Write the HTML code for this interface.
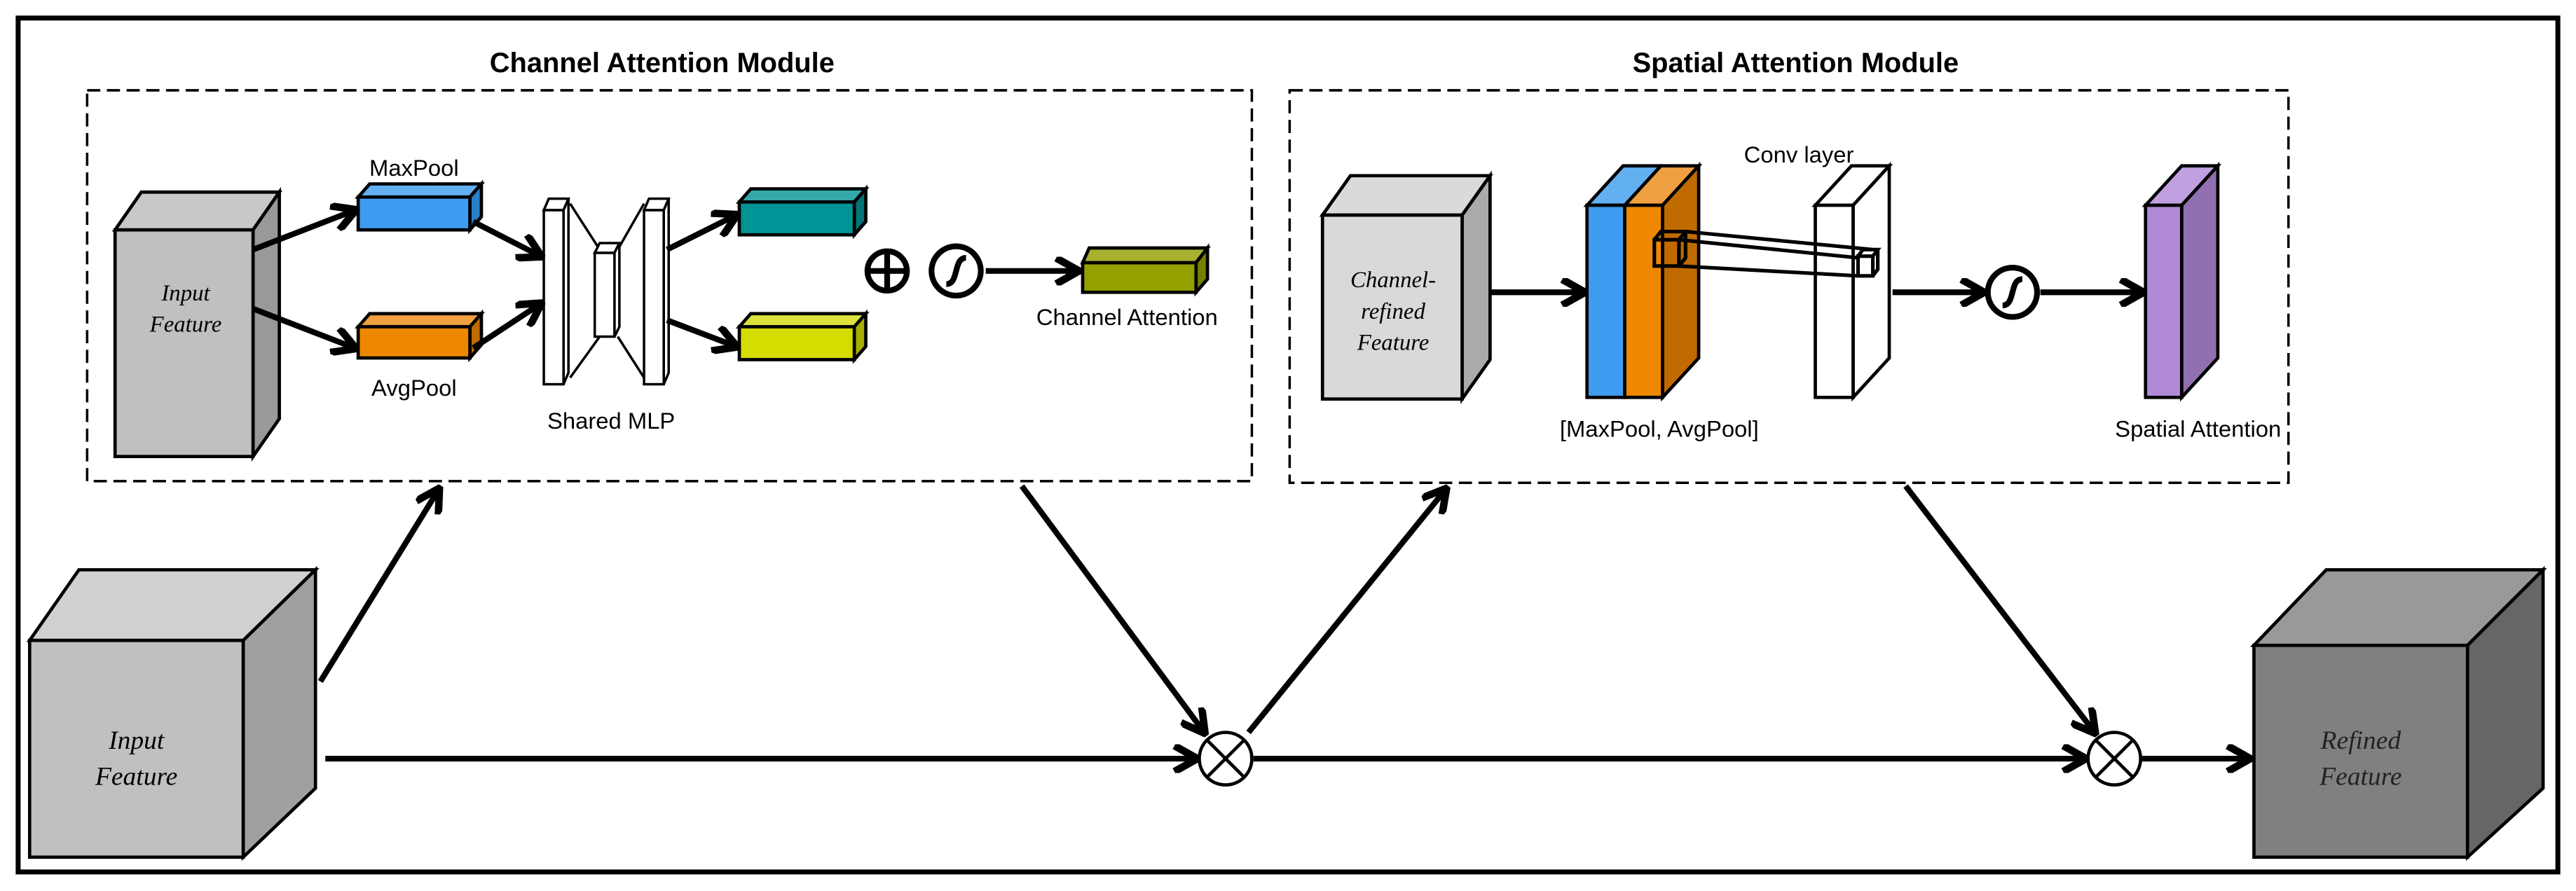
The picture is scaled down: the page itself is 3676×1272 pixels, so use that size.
<!DOCTYPE html>
<html><head><meta charset="utf-8"><style>
html,body{margin:0;padding:0;background:#fff;}
svg{display:block}
text{font-family:"Liberation Sans",sans-serif;}
.ser{font-family:"Liberation Serif",serif;font-style:italic;}
</style></head><body>
<svg width="3676" height="1272" viewBox="0 0 1568 542.6" xmlns="http://www.w3.org/2000/svg">
<defs>
<marker id="ah" viewBox="0 0 10 10" refX="8.5" refY="5" markerWidth="5" markerHeight="5" orient="auto" markerUnits="strokeWidth">
<path d="M1,0.5 L9,5 L1,9.5" fill="none" stroke="#000" stroke-width="2.6" stroke-linejoin="miter"/>
</marker>
</defs>
<rect x="0" y="0" width="1568" height="542.6" fill="#fff"/>
<rect x="11" y="11" width="1546" height="520" fill="none" stroke="#000" stroke-width="3"/>

<text x="403" y="44" font-size="17" font-weight="bold" text-anchor="middle">Channel Attention Module</text>
<text x="1093" y="44" font-size="17" font-weight="bold" text-anchor="middle">Spatial Attention Module</text>

<rect x="53" y="55" width="709" height="238" fill="none" stroke="#000" stroke-width="1.5" stroke-dasharray="8,4"/>
<rect x="785" y="55" width="608" height="239" fill="none" stroke="#000" stroke-width="1.5" stroke-dasharray="8,4"/>

<g stroke="#000" stroke-width="2" stroke-linejoin="miter">
<polygon points="70,140 86,117 170,117 154,140" fill="#c8c8c8"/>
<polygon points="154,140 170,117 170,255 154,278" fill="#999"/>
<rect x="70" y="140" width="84" height="138" fill="#c0c0c0"/>
<polygon points="218,120 225,112 293,112 286,120" fill="#62b0f0"/>
<polygon points="286,120 293,112 293,132 286,140" fill="#2a7fc9"/>
<rect x="218" y="120" width="68" height="20" fill="#3f9bef"/>
<polygon points="218,199 225,191 293,191 286,199" fill="#f0a040"/>
<polygon points="286,199 293,191 293,210 286,218" fill="#c06a00"/>
<rect x="218" y="199" width="68" height="19" fill="#ee8800"/>
<polygon points="450,123 457,115 527,115 520,123" fill="#33a8aa"/>
<polygon points="520,123 527,115 527,135 520,143" fill="#007476"/>
<rect x="450" y="123" width="70" height="20" fill="#009496"/>
<polygon points="450,199 457,191 527,191 520,199" fill="#dde23c"/>
<polygon points="520,199 527,191 527,211 520,219" fill="#a8ae00"/>
<rect x="450" y="199" width="70" height="20" fill="#d4dc00"/>
<polygon points="659,160 663,151 735,151 728,160" fill="#a8b030"/>
<polygon points="728,160 735,151 735,170 728,178" fill="#748000"/>
<rect x="659" y="160" width="69" height="18" fill="#94a000"/>
</g>
<g stroke="#000" stroke-width="1.5" fill="#fff">
<polyline points="347,124 365,152" fill="none"/>
<polyline points="347,230 365,205" fill="none"/>
<polyline points="392,124 376,152" fill="none"/>
<polyline points="392,230 376,205" fill="none"/>
<polygon points="331,128 334,121 346,121 343,128"/>
<polygon points="343,128 346,121 346,227 343,234"/>
<rect x="331" y="128" width="12" height="106"/>
<polygon points="362,154 365,148 377,148 374,154"/>
<polygon points="374,154 377,148 377,199 374,205"/>
<rect x="362" y="154" width="12" height="51"/>
<polygon points="392,128 395,121 407,121 404,128"/>
<polygon points="404,128 407,121 407,227 404,234"/>
<rect x="392" y="128" width="12" height="106"/>
</g>
<g stroke="#000" stroke-width="3.5" fill="none">
<circle cx="540" cy="165" r="12"/>
<line x1="528" y1="165" x2="552" y2="165"/>
<line x1="540" y1="153" x2="540" y2="177"/>
<circle cx="582" cy="165" r="15"/>
<path d="M576,173 C584,173 580,157 588,157"/>
<circle cx="1225" cy="178" r="15"/>
<path d="M1219,186 C1227,186 1223,170 1231,170"/>
</g>

<g font-size="14" text-anchor="middle">
<text x="252" y="107">MaxPool</text>
<text x="252" y="241">AvgPool</text>
<text x="372" y="261">Shared MLP</text>
<text x="686" y="198">Channel Attention</text>
<text x="1095" y="99">Conv layer</text>
<text x="1010" y="266">[MaxPool, AvgPool]</text>
<text x="1338" y="266">Spatial Attention</text>
</g>
<text class="ser" x="113" y="183" font-size="14" text-anchor="middle">Input</text>
<text class="ser" x="113" y="202" font-size="14" text-anchor="middle">Feature</text>

<g stroke="#000" stroke-width="2">
<polygon points="805,131 822,107 907,107 890,131" fill="#dadada"/>
<polygon points="890,131 907,107 907,219 890,243" fill="#aaa"/>
<rect x="805" y="131" width="85" height="112" fill="#d9d9d9"/>
<polygon points="966,125 988,101 1011,101 989,125" fill="#62b0f0"/>
<polygon points="989,125 1011,101 1034,101 1012,125" fill="#f0a040"/>
<polygon points="1012,125 1034,101 1034,218 1012,242" fill="#c06a00"/>
<rect x="966" y="125" width="23" height="117" fill="#3f9bef"/>
<rect x="989" y="125" width="23" height="117" fill="#ee8800"/>
<polygon points="1105,125 1127,101 1150,101 1128,125" fill="#fff"/>
<polygon points="1128,125 1150,101 1150,218 1128,242" fill="#fff"/>
<rect x="1105" y="125" width="23" height="117" fill="#fff"/>
<polygon points="1306,125 1328,101 1350,101 1328,125" fill="#c0a0e0"/>
<polygon points="1328,125 1350,101 1350,218 1328,242" fill="#9070b0"/>
<rect x="1306" y="125" width="22" height="117" fill="#b08ad6"/>
</g>
<g stroke="#000" stroke-width="2.2" fill="none">
<rect x="1007" y="146" width="15" height="16"/>
<polyline points="1007,146 1011,141 1026,141 1022,146"/>
<polyline points="1026,141 1026,157 1022,162"/>
<line x1="1026" y1="141" x2="1140" y2="152"/>
<line x1="1022" y1="146" x2="1131" y2="157"/>
<line x1="1022" y1="162" x2="1131" y2="168"/>
<rect x="1131" y="156" width="9" height="12" fill="#fff"/>
<polyline points="1131,156 1134,152 1143,152 1140,156"/>
<polyline points="1143,152 1143,164 1140,168"/>
</g>
<text class="ser" x="848" y="175" font-size="14" text-anchor="middle">Channel-</text>
<text class="ser" x="848" y="194" font-size="14" text-anchor="middle">refined</text>
<text class="ser" x="848" y="213" font-size="14" text-anchor="middle">Feature</text>

<g stroke="#000" stroke-width="2">
<polygon points="18,390 48,347 192,347 148,390" fill="#d0d0d0"/>
<polygon points="148,390 192,347 192,480 148,522" fill="#a0a0a0"/>
<rect x="18" y="390" width="130" height="132" fill="#c0c0c0"/>
<polygon points="1372,393 1416,347 1548,347 1502,393" fill="#999"/>
<polygon points="1502,393 1548,347 1548,480 1502,522" fill="#666"/>
<rect x="1372" y="393" width="130" height="129" fill="#808080"/>
</g>
<text class="ser" x="83" y="456" font-size="16" text-anchor="middle">Input</text>
<text class="ser" x="83" y="478" font-size="16" text-anchor="middle">Feature</text>
<text class="ser" x="1437" y="456" font-size="16" text-anchor="middle" fill="#222">Refined</text>
<text class="ser" x="1437" y="478" font-size="16" text-anchor="middle" fill="#222">Feature</text>

<g stroke="#000" stroke-width="2" fill="#fff">
<circle cx="746" cy="462" r="16"/>
<line x1="735" y1="451" x2="757" y2="473"/><line x1="757" y1="451" x2="735" y2="473"/>
<circle cx="1287" cy="462" r="16"/>
<line x1="1276" y1="451" x2="1298" y2="473"/><line x1="1298" y1="451" x2="1276" y2="473"/>
</g>

<g stroke="#000" stroke-width="3.5" fill="none" marker-end="url(#ah)">
<line x1="154" y1="152" x2="216" y2="128"/>
<line x1="154" y1="188" x2="216" y2="212"/>
<line x1="288" y1="135" x2="329" y2="156"/>
<line x1="288" y1="212" x2="329" y2="185"/>
<line x1="406" y1="152" x2="448" y2="131"/>
<line x1="406" y1="195" x2="448" y2="211"/>
<line x1="600" y1="165" x2="656" y2="165"/>
<line x1="907" y1="178" x2="964" y2="178"/>
<line x1="1152" y1="178" x2="1207" y2="178"/>
<line x1="1242" y1="178" x2="1304" y2="178"/>
<line x1="195" y1="415" x2="267" y2="298"/>
<line x1="622" y1="296" x2="733" y2="446"/>
<line x1="760" y1="446" x2="880" y2="298"/>
<line x1="1160" y1="296" x2="1275" y2="446"/>
<line x1="198" y1="462" x2="728" y2="462"/>
<line x1="763" y1="462" x2="1269" y2="462"/>
<line x1="1304" y1="462" x2="1369" y2="462"/>
</g>
</svg>
</body></html>
